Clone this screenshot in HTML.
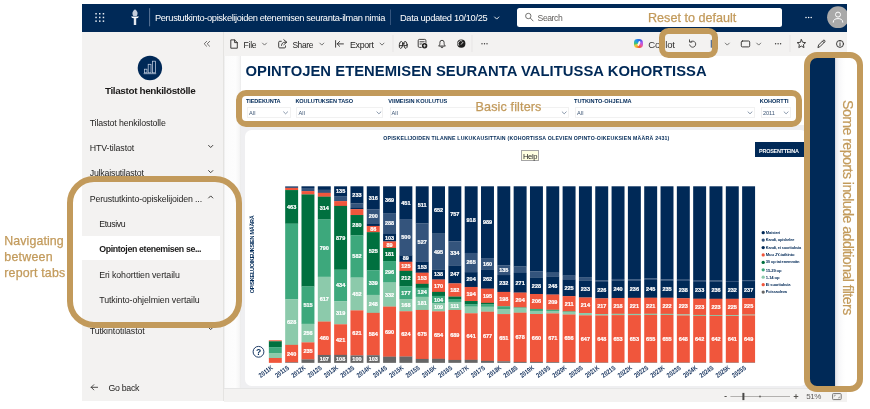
<!DOCTYPE html>
<html><head><meta charset="utf-8">
<style>
html,body{margin:0;padding:0;background:#fff;}
body{width:870px;height:409px;position:relative;overflow:hidden;font-family:"Liberation Sans",sans-serif;}
.a{position:absolute;}
.t{position:absolute;white-space:pre;font-family:"Liberation Sans",sans-serif;}
svg{position:absolute;left:0;top:0;overflow:visible;}
.dl{font-family:"Liberation Sans",sans-serif;font-size:5.5px;font-weight:700;fill:#fff;text-anchor:middle;stroke:#fff;stroke-width:0.22px;}
.ax{font-family:"Liberation Sans",sans-serif;font-size:6.7px;font-weight:700;fill:#17345f;}
.yt{font-family:"Liberation Sans",sans-serif;font-size:5.5px;font-weight:700;fill:#002957;}
.gold{position:absolute;border:6px solid #c29a5b;box-sizing:border-box;}
.dd{position:absolute;top:107.4px;height:10.2px;box-sizing:border-box;border:0.6px solid #f1f1f1;background:#fff;}
</style></head>
<body>
<div id="wrap" style="position:absolute;left:0;top:0;width:870px;height:409px;will-change:transform;">
<!-- window -->
<div class="a" style="left:82px;top:4px;width:765px;height:398px;background:#fff;"></div>
<!-- sidebar -->
<div class="a" style="left:82px;top:31px;width:141.3px;height:370.4px;background:#f3f2f1;"></div>
<div class="a" style="left:223.3px;top:31px;width:0.7px;height:370.4px;background:#e4e3e1;"></div>
<!-- toolbar -->
<div class="a" style="left:224px;top:31px;width:623px;height:25.1px;background:#f3f2f1;"></div>
<!-- report canvas -->
<div class="a" style="left:224.4px;top:56.1px;width:622.6px;height:332.1px;background:#fff;"></div>
<div class="a" style="left:224px;top:56.1px;width:17.4px;height:332.1px;background:linear-gradient(90deg,#e9e9e9 0,#fbfbfb 7%,#fdfdfd 68%,#f6f6f6 90%,#eaeaeb 100%);"></div>
<!-- band under filter -->
<div class="a" style="left:240.6px;top:125px;width:568px;height:263.2px;background:#efeff1;"></div>
<!-- chart card -->
<div class="a" style="left:244.6px;top:129.7px;width:562px;height:256.4px;background:#fff;border-radius:6.5px;"></div>
<!-- status bar -->
<div class="a" style="left:224.4px;top:388.2px;width:622.6px;height:13.4px;background:#f3f2f1;border-top:0.8px solid #e6e6e6;box-sizing:border-box;"></div>
<!-- top bar -->
<div class="a" style="left:82px;top:4px;width:765px;height:27.8px;background:#002957;"></div>
<div class="a" style="left:517.3px;top:7.6px;width:264.5px;height:19.1px;background:#fff;border-radius:2.5px;"></div>
<!-- selected nav item -->
<div class="a" style="left:82px;top:235.9px;width:138px;height:24px;background:#fff;"></div>
<!-- right filter pane -->
<div class="a" style="left:810.3px;top:56px;width:25px;height:332px;background:#002957;"></div>
<div class="a" style="left:835.3px;top:56px;width:22px;height:332px;background:linear-gradient(90deg,#cfd0d6 0,#e9e9ed 6%,#f7f7f9 18%,#fdfdfd 36%,#fff 50%);"></div>
<!-- PROSENTTEINA button -->
<div class="a" style="left:754.8px;top:142.2px;width:52px;height:15.2px;background:#002957;"></div>
<!-- dropdowns -->
<div class="dd" style="left:247px;width:44px;"></div>
<div class="dd" style="left:296.2px;width:87.2px;"></div>
<div class="dd" style="left:389.5px;width:179px;"></div>
<div class="dd" style="left:574.9px;width:180.6px;"></div>
<div class="dd" style="left:761px;width:30px;"></div>
<!-- help tooltip -->
<div class="a" style="left:521.4px;top:149.9px;width:17.4px;height:11.4px;background:#ffffe1;border:0.6px solid #a5a5a5;box-sizing:border-box;"></div>

<svg width="870" height="409" viewBox="0 0 870 409">
<rect x="268.85" y="340.28" width="12.95" height="1.17" fill="#f0563c"/>
<rect x="268.85" y="341.29" width="12.95" height="6.03" fill="#00703f"/>
<rect x="268.85" y="347.17" width="12.95" height="6.03" fill="#3da87c"/>
<rect x="268.85" y="353.05" width="12.95" height="5.08" fill="#8ccaab"/>
<rect x="268.85" y="357.98" width="12.95" height="4.87" fill="#f0563c"/>
<text class="ax" transform="translate(273.43,368.80) rotate(-36)" text-anchor="end" textLength="15.6" lengthAdjust="spacingAndGlyphs">2011K</text>
<rect x="285.17" y="186.30" width="12.95" height="1.75" fill="#34547c"/>
<rect x="285.17" y="187.90" width="12.95" height="2.33" fill="#f0563c"/>
<rect x="285.17" y="190.07" width="12.95" height="33.75" fill="#00703f"/>
<text x="291.65" y="208.82" class="dl">463</text>
<rect x="285.17" y="223.67" width="12.95" height="75.76" fill="#3da87c"/>
<rect x="285.17" y="299.28" width="12.95" height="45.72" fill="#8ccaab"/>
<text x="291.65" y="324.01" class="dl">628</text>
<rect x="285.17" y="344.85" width="12.95" height="17.57" fill="#f0563c"/>
<text x="291.65" y="355.51" class="dl">240</text>
<rect x="285.17" y="362.26" width="12.95" height="0.59" fill="#666666"/>
<text class="ax" transform="translate(289.75,368.80) rotate(-36)" text-anchor="end" textLength="15.6" lengthAdjust="spacingAndGlyphs">2011S</text>
<rect x="301.49" y="186.30" width="12.95" height="1.75" fill="#002957"/>
<rect x="301.49" y="187.90" width="12.95" height="3.34" fill="#34547c"/>
<rect x="301.49" y="191.09" width="12.95" height="3.49" fill="#f0563c"/>
<rect x="301.49" y="194.43" width="12.95" height="92.16" fill="#00703f"/>
<rect x="301.49" y="286.44" width="12.95" height="37.52" fill="#3da87c"/>
<text x="307.97" y="307.07" class="dl">515</text>
<rect x="301.49" y="323.81" width="12.95" height="18.73" fill="#8ccaab"/>
<text x="307.97" y="335.04" class="dl">256</text>
<rect x="301.49" y="342.38" width="12.95" height="17.20" fill="#f0563c"/>
<text x="307.97" y="352.86" class="dl">235</text>
<rect x="301.49" y="359.43" width="12.95" height="3.42" fill="#666666"/>
<text class="ax" transform="translate(306.07,368.80) rotate(-36)" text-anchor="end" textLength="15.6" lengthAdjust="spacingAndGlyphs">2012K</text>
<rect x="317.81" y="186.30" width="12.95" height="3.63" fill="#002957"/>
<rect x="317.81" y="189.78" width="12.95" height="3.20" fill="#34547c"/>
<rect x="317.81" y="192.83" width="12.95" height="4.00" fill="#f0563c"/>
<rect x="317.81" y="196.68" width="12.95" height="22.93" fill="#00703f"/>
<text x="324.29" y="210.02" class="dl">314</text>
<rect x="317.81" y="219.46" width="12.95" height="57.47" fill="#3da87c"/>
<text x="324.29" y="250.07" class="dl">790</text>
<rect x="317.81" y="276.79" width="12.95" height="44.92" fill="#8ccaab"/>
<text x="324.29" y="301.12" class="dl">617</text>
<rect x="317.81" y="321.56" width="12.95" height="33.53" fill="#f0563c"/>
<text x="324.29" y="340.20" class="dl">460</text>
<rect x="317.81" y="354.94" width="12.95" height="7.91" fill="#666666"/>
<text x="324.29" y="360.77" class="dl">107</text>
<text class="ax" transform="translate(322.39,368.80) rotate(-36)" text-anchor="end" textLength="15.6" lengthAdjust="spacingAndGlyphs">2012S</text>
<rect x="334.13" y="186.30" width="12.95" height="9.95" fill="#002957"/>
<text x="340.61" y="193.15" class="dl">135</text>
<rect x="334.13" y="196.10" width="12.95" height="5.16" fill="#34547c"/>
<rect x="334.13" y="201.10" width="12.95" height="4.94" fill="#f0563c"/>
<rect x="334.13" y="205.89" width="12.95" height="63.93" fill="#00703f"/>
<text x="340.61" y="239.73" class="dl">879</text>
<rect x="334.13" y="269.67" width="12.95" height="31.64" fill="#3da87c"/>
<text x="340.61" y="287.37" class="dl">434</text>
<rect x="334.13" y="301.17" width="12.95" height="23.30" fill="#8ccaab"/>
<text x="340.61" y="314.69" class="dl">319</text>
<rect x="334.13" y="324.31" width="12.95" height="30.70" fill="#f0563c"/>
<text x="340.61" y="341.54" class="dl">421</text>
<rect x="334.13" y="354.86" width="12.95" height="7.99" fill="#666666"/>
<text x="340.61" y="360.73" class="dl">108</text>
<text class="ax" transform="translate(338.71,368.80) rotate(-36)" text-anchor="end" textLength="15.6" lengthAdjust="spacingAndGlyphs">2013K</text>
<rect x="350.45" y="186.30" width="12.95" height="17.06" fill="#002957"/>
<text x="356.93" y="196.70" class="dl">233</text>
<rect x="350.45" y="203.21" width="12.95" height="4.87" fill="#34547c"/>
<rect x="350.45" y="207.92" width="12.95" height="1.38" fill="#002957"/>
<rect x="350.45" y="209.16" width="12.95" height="6.03" fill="#f0563c"/>
<rect x="350.45" y="215.03" width="12.95" height="20.47" fill="#00703f"/>
<text x="356.93" y="227.14" class="dl">280</text>
<rect x="350.45" y="235.35" width="12.95" height="42.38" fill="#3da87c"/>
<text x="356.93" y="258.42" class="dl">582</text>
<rect x="350.45" y="277.58" width="12.95" height="32.95" fill="#8ccaab"/>
<text x="356.93" y="295.93" class="dl">452</text>
<rect x="350.45" y="310.38" width="12.95" height="45.21" fill="#f0563c"/>
<text x="356.93" y="334.86" class="dl">621</text>
<rect x="350.45" y="355.44" width="12.95" height="7.41" fill="#666666"/>
<text x="356.93" y="361.02" class="dl">100</text>
<text class="ax" transform="translate(355.03,368.80) rotate(-36)" text-anchor="end" textLength="15.6" lengthAdjust="spacingAndGlyphs">2013S</text>
<rect x="366.77" y="186.30" width="12.95" height="23.08" fill="#002957"/>
<text x="373.25" y="199.71" class="dl">316</text>
<rect x="366.77" y="209.23" width="12.95" height="14.66" fill="#34547c"/>
<text x="373.25" y="218.44" class="dl">200</text>
<rect x="366.77" y="223.74" width="12.95" height="2.33" fill="#002957"/>
<rect x="366.77" y="225.92" width="12.95" height="6.39" fill="#f0563c"/>
<text x="373.25" y="230.99" class="dl">86</text>
<rect x="366.77" y="232.16" width="12.95" height="38.25" fill="#00703f"/>
<text x="373.25" y="253.16" class="dl">525</text>
<rect x="366.77" y="270.26" width="12.95" height="24.75" fill="#3da87c"/>
<text x="373.25" y="284.50" class="dl">339</text>
<rect x="366.77" y="294.85" width="12.95" height="18.15" fill="#8ccaab"/>
<text x="373.25" y="305.80" class="dl">248</text>
<rect x="366.77" y="312.85" width="12.95" height="42.53" fill="#f0563c"/>
<text x="373.25" y="335.99" class="dl">584</text>
<rect x="366.77" y="355.23" width="12.95" height="7.62" fill="#666666"/>
<text x="373.25" y="360.91" class="dl">103</text>
<text class="ax" transform="translate(371.35,368.80) rotate(-36)" text-anchor="end" textLength="15.6" lengthAdjust="spacingAndGlyphs">2014K</text>
<rect x="383.09" y="186.30" width="12.95" height="26.93" fill="#002957"/>
<text x="389.57" y="201.64" class="dl">369</text>
<rect x="383.09" y="213.08" width="12.95" height="21.05" fill="#34547c"/>
<text x="389.57" y="225.47" class="dl">288</text>
<rect x="383.09" y="233.97" width="12.95" height="7.62" fill="#002957"/>
<text x="389.57" y="239.66" class="dl">103</text>
<rect x="383.09" y="241.45" width="12.95" height="6.61" fill="#f0563c"/>
<text x="389.57" y="246.63" class="dl">89</text>
<rect x="383.09" y="247.91" width="12.95" height="13.28" fill="#00703f"/>
<text x="389.57" y="256.42" class="dl">181</text>
<rect x="383.09" y="261.04" width="12.95" height="21.63" fill="#3da87c"/>
<text x="389.57" y="273.73" class="dl">296</text>
<rect x="383.09" y="282.52" width="12.95" height="24.24" fill="#8ccaab"/>
<text x="389.57" y="296.51" class="dl">332</text>
<rect x="383.09" y="306.61" width="12.95" height="50.22" fill="#f0563c"/>
<text x="389.57" y="333.59" class="dl">690</text>
<rect x="383.09" y="356.68" width="12.95" height="6.17" fill="#666666"/>
<text class="ax" transform="translate(387.67,368.80) rotate(-36)" text-anchor="end" textLength="15.6" lengthAdjust="spacingAndGlyphs">2014S</text>
<rect x="399.41" y="186.30" width="12.95" height="32.88" fill="#002957"/>
<text x="405.89" y="204.61" class="dl">451</text>
<rect x="399.41" y="219.03" width="12.95" height="36.43" fill="#34547c"/>
<text x="405.89" y="239.12" class="dl">500</text>
<rect x="399.41" y="255.31" width="12.95" height="6.61" fill="#002957"/>
<text x="405.89" y="260.49" class="dl">89</text>
<rect x="399.41" y="261.77" width="12.95" height="9.22" fill="#f0563c"/>
<text x="405.89" y="268.25" class="dl">125</text>
<rect x="399.41" y="270.84" width="12.95" height="15.53" fill="#00703f"/>
<text x="405.89" y="280.48" class="dl">212</text>
<rect x="399.41" y="286.22" width="12.95" height="12.99" fill="#3da87c"/>
<text x="405.89" y="294.59" class="dl">177</text>
<rect x="399.41" y="299.06" width="12.95" height="12.34" fill="#8ccaab"/>
<text x="405.89" y="307.11" class="dl">168</text>
<rect x="399.41" y="311.25" width="12.95" height="45.43" fill="#f0563c"/>
<text x="405.89" y="335.84" class="dl">624</text>
<rect x="399.41" y="356.53" width="12.95" height="6.32" fill="#666666"/>
<text class="ax" transform="translate(403.99,368.80) rotate(-36)" text-anchor="end" textLength="15.6" lengthAdjust="spacingAndGlyphs">2015K</text>
<rect x="415.73" y="186.30" width="12.95" height="37.23" fill="#002957"/>
<text x="422.21" y="206.79" class="dl">511</text>
<rect x="415.73" y="223.38" width="12.95" height="38.39" fill="#34547c"/>
<text x="422.21" y="244.45" class="dl">527</text>
<rect x="415.73" y="261.62" width="12.95" height="11.25" fill="#002957"/>
<text x="422.21" y="269.12" class="dl">153</text>
<rect x="415.73" y="272.72" width="12.95" height="11.25" fill="#f0563c"/>
<text x="422.21" y="280.22" class="dl">153</text>
<rect x="415.73" y="283.82" width="12.95" height="4.14" fill="#00703f"/>
<rect x="415.73" y="287.82" width="12.95" height="9.15" fill="#3da87c"/>
<text x="422.21" y="294.26" class="dl">124</text>
<rect x="415.73" y="296.81" width="12.95" height="13.28" fill="#8ccaab"/>
<text x="422.21" y="305.33" class="dl">181</text>
<rect x="415.73" y="309.95" width="12.95" height="49.13" fill="#f0563c"/>
<text x="422.21" y="336.39" class="dl">675</text>
<rect x="415.73" y="358.93" width="12.95" height="3.92" fill="#666666"/>
<text class="ax" transform="translate(420.31,368.80) rotate(-36)" text-anchor="end" textLength="15.6" lengthAdjust="spacingAndGlyphs">2015S</text>
<rect x="432.05" y="186.30" width="12.95" height="47.46" fill="#002957"/>
<text x="438.53" y="211.91" class="dl">652</text>
<rect x="432.05" y="233.61" width="12.95" height="36.07" fill="#34547c"/>
<text x="438.53" y="253.52" class="dl">495</text>
<rect x="432.05" y="269.53" width="12.95" height="10.16" fill="#002957"/>
<text x="438.53" y="276.49" class="dl">138</text>
<rect x="432.05" y="279.54" width="12.95" height="12.49" fill="#f0563c"/>
<text x="438.53" y="287.66" class="dl">170</text>
<rect x="432.05" y="291.88" width="12.95" height="4.14" fill="#00703f"/>
<rect x="432.05" y="295.87" width="12.95" height="7.70" fill="#3da87c"/>
<text x="438.53" y="301.59" class="dl">104</text>
<rect x="432.05" y="303.42" width="12.95" height="8.06" fill="#8ccaab"/>
<text x="438.53" y="309.32" class="dl">109</text>
<rect x="432.05" y="311.33" width="12.95" height="47.61" fill="#f0563c"/>
<text x="438.53" y="337.00" class="dl">654</text>
<rect x="432.05" y="358.78" width="12.95" height="4.07" fill="#666666"/>
<text class="ax" transform="translate(436.63,368.80) rotate(-36)" text-anchor="end" textLength="15.6" lengthAdjust="spacingAndGlyphs">2016K</text>
<rect x="448.37" y="186.30" width="12.95" height="55.08" fill="#002957"/>
<text x="454.85" y="215.71" class="dl">757</text>
<rect x="448.37" y="241.23" width="12.95" height="24.39" fill="#34547c"/>
<text x="454.85" y="255.30" class="dl">334</text>
<rect x="448.37" y="265.47" width="12.95" height="18.07" fill="#002957"/>
<text x="454.85" y="276.38" class="dl">247</text>
<rect x="448.37" y="283.39" width="12.95" height="13.36" fill="#f0563c"/>
<text x="454.85" y="291.94" class="dl">182</text>
<rect x="448.37" y="296.60" width="12.95" height="2.54" fill="#00703f"/>
<rect x="448.37" y="298.99" width="12.95" height="3.05" fill="#3da87c"/>
<rect x="448.37" y="301.89" width="12.95" height="8.20" fill="#8ccaab"/>
<text x="454.85" y="307.87" class="dl">111</text>
<rect x="448.37" y="309.95" width="12.95" height="50.15" fill="#f0563c"/>
<text x="454.85" y="336.89" class="dl">689</text>
<rect x="448.37" y="359.94" width="12.95" height="2.91" fill="#666666"/>
<text class="ax" transform="translate(452.95,368.80) rotate(-36)" text-anchor="end" textLength="15.6" lengthAdjust="spacingAndGlyphs">2016S</text>
<rect x="464.69" y="186.30" width="12.95" height="66.76" fill="#002957"/>
<text x="471.17" y="221.56" class="dl">918</text>
<rect x="464.69" y="252.91" width="12.95" height="19.38" fill="#34547c"/>
<text x="471.17" y="264.48" class="dl">265</text>
<rect x="464.69" y="272.14" width="12.95" height="14.95" fill="#002957"/>
<text x="471.17" y="281.49" class="dl">204</text>
<rect x="464.69" y="286.94" width="12.95" height="14.23" fill="#f0563c"/>
<text x="471.17" y="295.93" class="dl">194</text>
<rect x="464.69" y="301.02" width="12.95" height="3.27" fill="#00703f"/>
<rect x="464.69" y="304.14" width="12.95" height="2.62" fill="#3da87c"/>
<rect x="464.69" y="306.61" width="12.95" height="6.83" fill="#8ccaab"/>
<rect x="464.69" y="313.28" width="12.95" height="46.66" fill="#f0563c"/>
<text x="471.17" y="338.49" class="dl">641</text>
<rect x="464.69" y="359.80" width="12.95" height="3.05" fill="#666666"/>
<text class="ax" transform="translate(469.27,368.80) rotate(-36)" text-anchor="end" textLength="15.6" lengthAdjust="spacingAndGlyphs">2017K</text>
<rect x="481.01" y="186.30" width="12.95" height="71.91" fill="#002957"/>
<text x="487.49" y="224.13" class="dl">989</text>
<rect x="481.01" y="258.06" width="12.95" height="11.76" fill="#34547c"/>
<text x="487.49" y="265.82" class="dl">160</text>
<rect x="481.01" y="269.67" width="12.95" height="19.16" fill="#002957"/>
<text x="487.49" y="281.13" class="dl">262</text>
<rect x="481.01" y="288.69" width="12.95" height="14.30" fill="#f0563c"/>
<text x="487.49" y="297.71" class="dl">195</text>
<rect x="481.01" y="302.84" width="12.95" height="1.75" fill="#00703f"/>
<rect x="481.01" y="304.43" width="12.95" height="2.47" fill="#3da87c"/>
<rect x="481.01" y="306.75" width="12.95" height="5.08" fill="#8ccaab"/>
<rect x="481.01" y="311.69" width="12.95" height="49.27" fill="#f0563c"/>
<text x="487.49" y="338.20" class="dl">677</text>
<rect x="481.01" y="360.81" width="12.95" height="2.04" fill="#666666"/>
<text class="ax" transform="translate(485.59,368.80) rotate(-36)" text-anchor="end" textLength="15.6" lengthAdjust="spacingAndGlyphs">2017S</text>
<rect x="497.33" y="186.30" width="12.95" height="79.10" fill="#002957"/>
<rect x="497.33" y="265.25" width="12.95" height="9.95" fill="#34547c"/>
<text x="503.81" y="272.10" class="dl">135</text>
<rect x="497.33" y="275.04" width="12.95" height="16.98" fill="#002957"/>
<text x="503.81" y="285.41" class="dl">232</text>
<rect x="497.33" y="291.88" width="12.95" height="14.52" fill="#f0563c"/>
<text x="503.81" y="301.01" class="dl">198</text>
<rect x="497.33" y="306.25" width="12.95" height="2.91" fill="#3da87c"/>
<rect x="497.33" y="309.00" width="12.95" height="5.23" fill="#8ccaab"/>
<rect x="497.33" y="314.08" width="12.95" height="47.39" fill="#f0563c"/>
<text x="503.81" y="339.65" class="dl">651</text>
<rect x="497.33" y="361.32" width="12.95" height="1.53" fill="#666666"/>
<text class="ax" transform="translate(501.91,368.80) rotate(-36)" text-anchor="end" textLength="15.6" lengthAdjust="spacingAndGlyphs">2018K</text>
<rect x="513.65" y="186.30" width="12.95" height="80.33" fill="#002957"/>
<rect x="513.65" y="266.48" width="12.95" height="6.61" fill="#34547c"/>
<rect x="513.65" y="272.94" width="12.95" height="19.81" fill="#002957"/>
<text x="520.13" y="284.72" class="dl">271</text>
<rect x="513.65" y="292.60" width="12.95" height="14.95" fill="#f0563c"/>
<text x="520.13" y="301.96" class="dl">204</text>
<rect x="513.65" y="307.41" width="12.95" height="1.17" fill="#3da87c"/>
<rect x="513.65" y="308.42" width="12.95" height="4.43" fill="#8ccaab"/>
<rect x="513.65" y="312.70" width="12.95" height="49.35" fill="#f0563c"/>
<text x="520.13" y="339.25" class="dl">678</text>
<rect x="513.65" y="361.90" width="12.95" height="0.95" fill="#666666"/>
<text class="ax" transform="translate(518.23,368.80) rotate(-36)" text-anchor="end" textLength="15.6" lengthAdjust="spacingAndGlyphs">2018S</text>
<rect x="529.97" y="186.30" width="12.95" height="85.19" fill="#002957"/>
<rect x="529.97" y="271.34" width="12.95" height="6.25" fill="#34547c"/>
<rect x="529.97" y="277.44" width="12.95" height="16.69" fill="#002957"/>
<text x="536.45" y="287.66" class="dl">228</text>
<rect x="529.97" y="293.98" width="12.95" height="15.10" fill="#f0563c"/>
<text x="536.45" y="303.41" class="dl">206</text>
<rect x="529.97" y="308.93" width="12.95" height="2.11" fill="#3da87c"/>
<rect x="529.97" y="310.89" width="12.95" height="3.27" fill="#8ccaab"/>
<rect x="529.97" y="314.01" width="12.95" height="48.04" fill="#f0563c"/>
<text x="536.45" y="339.91" class="dl">660</text>
<rect x="529.97" y="361.90" width="12.95" height="0.95" fill="#666666"/>
<text class="ax" transform="translate(534.55,368.80) rotate(-36)" text-anchor="end" textLength="15.6" lengthAdjust="spacingAndGlyphs">2019K</text>
<rect x="546.29" y="186.30" width="12.95" height="86.50" fill="#002957"/>
<rect x="546.29" y="272.65" width="12.95" height="4.07" fill="#34547c"/>
<rect x="546.29" y="276.57" width="12.95" height="18.15" fill="#002957"/>
<text x="552.76" y="287.52" class="dl">248</text>
<rect x="546.29" y="294.56" width="12.95" height="15.32" fill="#f0563c"/>
<text x="552.76" y="304.10" class="dl">209</text>
<rect x="546.29" y="309.73" width="12.95" height="1.31" fill="#3da87c"/>
<rect x="546.29" y="310.89" width="12.95" height="2.69" fill="#8ccaab"/>
<rect x="546.29" y="313.43" width="12.95" height="48.84" fill="#f0563c"/>
<text x="552.76" y="339.72" class="dl">671</text>
<rect x="546.29" y="362.12" width="12.95" height="0.73" fill="#666666"/>
<text class="ax" transform="translate(550.87,368.80) rotate(-36)" text-anchor="end" textLength="15.6" lengthAdjust="spacingAndGlyphs">2019S</text>
<rect x="562.61" y="186.30" width="12.95" height="88.89" fill="#002957"/>
<rect x="562.61" y="275.04" width="12.95" height="4.87" fill="#34547c"/>
<rect x="562.61" y="279.76" width="12.95" height="16.48" fill="#002957"/>
<text x="569.09" y="289.87" class="dl">225</text>
<rect x="562.61" y="296.09" width="12.95" height="15.46" fill="#f0563c"/>
<text x="569.09" y="305.69" class="dl">211</text>
<rect x="562.61" y="311.40" width="12.95" height="0.73" fill="#3da87c"/>
<rect x="562.61" y="311.98" width="12.95" height="2.69" fill="#8ccaab"/>
<rect x="562.61" y="314.52" width="12.95" height="47.75" fill="#f0563c"/>
<text x="569.09" y="340.27" class="dl">656</text>
<rect x="562.61" y="362.12" width="12.95" height="0.73" fill="#666666"/>
<text class="ax" transform="translate(567.19,368.80) rotate(-36)" text-anchor="end" textLength="15.6" lengthAdjust="spacingAndGlyphs">2020K</text>
<rect x="578.93" y="186.30" width="12.95" height="90.93" fill="#002957"/>
<rect x="578.93" y="277.08" width="12.95" height="3.63" fill="#34547c"/>
<rect x="578.93" y="280.56" width="12.95" height="17.06" fill="#002957"/>
<text x="585.41" y="290.96" class="dl">233</text>
<rect x="578.93" y="297.47" width="12.95" height="15.68" fill="#f0563c"/>
<text x="585.41" y="307.18" class="dl">214</text>
<rect x="578.93" y="312.99" width="12.95" height="2.47" fill="#8ccaab"/>
<rect x="578.93" y="315.32" width="12.95" height="47.10" fill="#f0563c"/>
<text x="585.41" y="340.74" class="dl">647</text>
<rect x="578.93" y="362.26" width="12.95" height="0.59" fill="#666666"/>
<text class="ax" transform="translate(583.51,368.80) rotate(-36)" text-anchor="end" textLength="15.6" lengthAdjust="spacingAndGlyphs">2020S</text>
<rect x="595.25" y="186.30" width="12.95" height="94.05" fill="#002957"/>
<rect x="595.25" y="280.20" width="12.95" height="1.89" fill="#34547c"/>
<rect x="595.25" y="281.94" width="12.95" height="16.55" fill="#002957"/>
<text x="601.73" y="292.09" class="dl">226</text>
<rect x="595.25" y="298.34" width="12.95" height="15.90" fill="#f0563c"/>
<text x="601.73" y="308.16" class="dl">217</text>
<rect x="595.25" y="314.08" width="12.95" height="1.53" fill="#8ccaab"/>
<rect x="595.25" y="315.46" width="12.95" height="47.17" fill="#f0563c"/>
<text x="601.73" y="340.92" class="dl">648</text>
<rect x="595.25" y="362.48" width="12.95" height="0.37" fill="#666666"/>
<text class="ax" transform="translate(599.83,368.80) rotate(-36)" text-anchor="end" textLength="15.6" lengthAdjust="spacingAndGlyphs">2021K</text>
<rect x="611.57" y="186.30" width="12.95" height="92.75" fill="#002957"/>
<rect x="611.57" y="278.90" width="12.95" height="1.80" fill="#34547c"/>
<rect x="611.57" y="280.55" width="12.95" height="17.57" fill="#002957"/>
<text x="618.05" y="291.21" class="dl">240</text>
<rect x="611.57" y="297.97" width="12.95" height="15.97" fill="#f0563c"/>
<text x="618.05" y="307.83" class="dl">218</text>
<rect x="611.57" y="313.79" width="12.95" height="1.46" fill="#8ccaab"/>
<rect x="611.57" y="315.10" width="12.95" height="47.53" fill="#f0563c"/>
<text x="618.05" y="340.74" class="dl">653</text>
<rect x="611.57" y="362.48" width="12.95" height="0.37" fill="#666666"/>
<text class="ax" transform="translate(616.15,368.80) rotate(-36)" text-anchor="end" textLength="15.6" lengthAdjust="spacingAndGlyphs">2021S</text>
<rect x="627.89" y="186.30" width="12.95" height="92.97" fill="#002957"/>
<rect x="627.89" y="279.12" width="12.95" height="1.72" fill="#34547c"/>
<rect x="627.89" y="280.69" width="12.95" height="17.27" fill="#002957"/>
<text x="634.37" y="291.20" class="dl">236</text>
<rect x="627.89" y="297.81" width="12.95" height="16.19" fill="#f0563c"/>
<text x="634.37" y="307.78" class="dl">221</text>
<rect x="627.89" y="313.85" width="12.95" height="1.40" fill="#8ccaab"/>
<rect x="627.89" y="315.10" width="12.95" height="47.53" fill="#f0563c"/>
<text x="634.37" y="340.74" class="dl">653</text>
<rect x="627.89" y="362.48" width="12.95" height="0.37" fill="#666666"/>
<text class="ax" transform="translate(632.47,368.80) rotate(-36)" text-anchor="end" textLength="15.6" lengthAdjust="spacingAndGlyphs">2022K</text>
<rect x="644.21" y="186.30" width="12.95" height="92.33" fill="#002957"/>
<rect x="644.21" y="278.48" width="12.95" height="1.63" fill="#34547c"/>
<rect x="644.21" y="279.96" width="12.95" height="17.93" fill="#002957"/>
<text x="650.69" y="290.80" class="dl">245</text>
<rect x="644.21" y="297.73" width="12.95" height="16.19" fill="#f0563c"/>
<text x="650.69" y="307.70" class="dl">221</text>
<rect x="644.21" y="313.77" width="12.95" height="1.33" fill="#8ccaab"/>
<rect x="644.21" y="314.95" width="12.95" height="47.68" fill="#f0563c"/>
<text x="650.69" y="340.67" class="dl">655</text>
<rect x="644.21" y="362.48" width="12.95" height="0.37" fill="#666666"/>
<text class="ax" transform="translate(648.79,368.80) rotate(-36)" text-anchor="end" textLength="15.6" lengthAdjust="spacingAndGlyphs">2022S</text>
<rect x="660.53" y="186.30" width="12.95" height="93.13" fill="#002957"/>
<rect x="660.53" y="279.28" width="12.95" height="1.54" fill="#34547c"/>
<rect x="660.53" y="280.68" width="12.95" height="17.20" fill="#002957"/>
<text x="667.00" y="291.15" class="dl">235</text>
<rect x="660.53" y="297.73" width="12.95" height="16.26" fill="#f0563c"/>
<text x="667.00" y="307.73" class="dl">222</text>
<rect x="660.53" y="313.84" width="12.95" height="1.27" fill="#8ccaab"/>
<rect x="660.53" y="314.95" width="12.95" height="47.68" fill="#f0563c"/>
<text x="667.00" y="340.67" class="dl">655</text>
<rect x="660.53" y="362.48" width="12.95" height="0.37" fill="#666666"/>
<text class="ax" transform="translate(665.11,368.80) rotate(-36)" text-anchor="end" textLength="15.6" lengthAdjust="spacingAndGlyphs">2023K</text>
<rect x="676.85" y="186.30" width="12.95" height="93.50" fill="#002957"/>
<rect x="676.85" y="279.65" width="12.95" height="1.46" fill="#34547c"/>
<rect x="676.85" y="280.96" width="12.95" height="17.42" fill="#002957"/>
<text x="683.33" y="291.54" class="dl">238</text>
<rect x="676.85" y="298.23" width="12.95" height="16.33" fill="#f0563c"/>
<text x="683.33" y="308.27" class="dl">223</text>
<rect x="676.85" y="314.41" width="12.95" height="1.20" fill="#8ccaab"/>
<rect x="676.85" y="315.46" width="12.95" height="47.17" fill="#f0563c"/>
<text x="683.33" y="340.92" class="dl">648</text>
<rect x="676.85" y="362.48" width="12.95" height="0.37" fill="#666666"/>
<text class="ax" transform="translate(681.43,368.80) rotate(-36)" text-anchor="end" textLength="15.6" lengthAdjust="spacingAndGlyphs">2023S</text>
<rect x="693.17" y="186.30" width="12.95" height="94.45" fill="#002957"/>
<rect x="693.17" y="280.60" width="12.95" height="1.37" fill="#34547c"/>
<rect x="693.17" y="281.82" width="12.95" height="17.06" fill="#002957"/>
<text x="699.65" y="292.23" class="dl">233</text>
<rect x="693.17" y="298.73" width="12.95" height="16.33" fill="#f0563c"/>
<text x="699.65" y="308.77" class="dl">223</text>
<rect x="693.17" y="314.91" width="12.95" height="1.14" fill="#8ccaab"/>
<rect x="693.17" y="315.90" width="12.95" height="46.74" fill="#f0563c"/>
<text x="699.65" y="341.14" class="dl">642</text>
<rect x="693.17" y="362.48" width="12.95" height="0.37" fill="#666666"/>
<text class="ax" transform="translate(697.75,368.80) rotate(-36)" text-anchor="end" textLength="15.6" lengthAdjust="spacingAndGlyphs">2024K</text>
<rect x="709.49" y="186.30" width="12.95" height="94.39" fill="#002957"/>
<rect x="709.49" y="280.54" width="12.95" height="1.28" fill="#34547c"/>
<rect x="709.49" y="281.67" width="12.95" height="17.27" fill="#002957"/>
<text x="715.97" y="292.18" class="dl">236</text>
<rect x="709.49" y="298.79" width="12.95" height="16.33" fill="#f0563c"/>
<text x="715.97" y="308.83" class="dl">223</text>
<rect x="709.49" y="314.98" width="12.95" height="1.07" fill="#8ccaab"/>
<rect x="709.49" y="315.90" width="12.95" height="46.74" fill="#f0563c"/>
<text x="715.97" y="341.14" class="dl">642</text>
<rect x="709.49" y="362.48" width="12.95" height="0.37" fill="#666666"/>
<text class="ax" transform="translate(714.07,368.80) rotate(-36)" text-anchor="end" textLength="15.6" lengthAdjust="spacingAndGlyphs">2024S</text>
<rect x="725.81" y="186.30" width="12.95" height="94.76" fill="#002957"/>
<rect x="725.81" y="280.91" width="12.95" height="1.19" fill="#34547c"/>
<rect x="725.81" y="281.95" width="12.95" height="16.98" fill="#002957"/>
<text x="732.29" y="292.32" class="dl">232</text>
<rect x="725.81" y="298.79" width="12.95" height="16.48" fill="#f0563c"/>
<text x="732.29" y="308.90" class="dl">225</text>
<rect x="725.81" y="315.11" width="12.95" height="1.01" fill="#8ccaab"/>
<rect x="725.81" y="315.97" width="12.95" height="46.66" fill="#f0563c"/>
<text x="732.29" y="341.18" class="dl">641</text>
<rect x="725.81" y="362.48" width="12.95" height="0.37" fill="#666666"/>
<text class="ax" transform="translate(730.39,368.80) rotate(-36)" text-anchor="end" textLength="15.6" lengthAdjust="spacingAndGlyphs">2025K</text>
<rect x="742.13" y="186.30" width="12.95" height="93.97" fill="#002957"/>
<rect x="742.13" y="280.12" width="12.95" height="1.11" fill="#34547c"/>
<rect x="742.13" y="281.07" width="12.95" height="17.35" fill="#002957"/>
<text x="748.61" y="291.62" class="dl">237</text>
<rect x="742.13" y="298.27" width="12.95" height="16.48" fill="#f0563c"/>
<text x="748.61" y="308.38" class="dl">225</text>
<rect x="742.13" y="314.60" width="12.95" height="0.94" fill="#8ccaab"/>
<rect x="742.13" y="315.39" width="12.95" height="47.24" fill="#f0563c"/>
<text x="748.61" y="340.89" class="dl">649</text>
<rect x="742.13" y="362.48" width="12.95" height="0.37" fill="#666666"/>
<text class="ax" transform="translate(746.71,368.80) rotate(-36)" text-anchor="end" textLength="15.6" lengthAdjust="spacingAndGlyphs">2025S</text>
<circle cx="763.2" cy="232.70" r="1.65" fill="#002957"/>
<circle cx="763.2" cy="240.12" r="1.65" fill="#34547c"/>
<circle cx="763.2" cy="247.54" r="1.65" fill="#002957"/>
<circle cx="763.2" cy="254.96" r="1.65" fill="#f0563c"/>
<circle cx="763.2" cy="262.38" r="1.65" fill="#00703f"/>
<circle cx="763.2" cy="269.80" r="1.65" fill="#3da87c"/>
<circle cx="763.2" cy="277.22" r="1.65" fill="#8ccaab"/>
<circle cx="763.2" cy="284.64" r="1.65" fill="#f0563c"/>
<circle cx="763.2" cy="292.06" r="1.65" fill="#666666"/>
<text class="yt" transform="translate(253.5,254.2) rotate(-90)" text-anchor="middle" textLength="78" lengthAdjust="spacing">OPISKELUOIKEUKSIEN MÄÄRÄ</text>
<!-- help circle -->
<circle cx="258.5" cy="351.8" r="5.4" fill="#fff" stroke="#1f3d68" stroke-width="1"/>
<text x="258.5" y="354.8" text-anchor="middle" font-family="Liberation Sans" font-weight="700" font-size="8.6" fill="#002957">?</text>
<!-- ===== top bar icons ===== -->
<g fill="#e8edf4">
<rect x="95.3" y="13" width="1.5" height="1.5"/><rect x="99" y="13" width="1.5" height="1.5"/><rect x="102.7" y="13" width="1.5" height="1.5"/>
<rect x="95.3" y="16.7" width="1.5" height="1.5"/><rect x="99" y="16.7" width="1.5" height="1.5"/><rect x="102.7" y="16.7" width="1.5" height="1.5"/>
<rect x="95.3" y="20.4" width="1.5" height="1.5"/><rect x="99" y="20.4" width="1.5" height="1.5"/><rect x="102.7" y="20.4" width="1.5" height="1.5"/>
</g>
<!-- torch -->
<path d="M135 9.3 C137.7 11.4 138.4 13.6 136.7 15.9 L133.3 15.9 C131.6 13.6 132.3 11.4 135 9.3Z" fill="#c5cedb"/>
<path d="M131.1 16.5 h7.8 c-0.3 1.3 -1.8 1.8 -3.9 1.8 c-2.1 0 -3.6 -0.5 -3.9 -1.8z" fill="#ffffff"/>
<rect x="133.8" y="18" width="2.4" height="7" fill="#e3e8ef"/>
<line x1="149.6" y1="8.2" x2="149.6" y2="26.3" stroke="#5b7497" stroke-width="1"/>
<line x1="390.5" y1="9.5" x2="390.5" y2="25" stroke="#4b678e" stroke-width="0.7"/>
<path d="M494.3 16.7 L496.7 19.1 L499.1 16.7" fill="none" stroke="#fff" stroke-width="0.9"/>
<!-- search icon -->
<circle cx="528.3" cy="16" r="2.7" fill="none" stroke="#605e5c" stroke-width="0.85"/>
<line x1="530.3" y1="18" x2="533.3" y2="21.2" stroke="#605e5c" stroke-width="0.9"/>
<!-- top dots -->
<g fill="#fff"><circle cx="806" cy="17.4" r="0.75"/><circle cx="808.6" cy="17.4" r="0.75"/><circle cx="811.2" cy="17.4" r="0.75"/></g>
<!-- avatar -->
<clipPath id="avc"><rect x="820" y="4" width="27" height="27.3"/></clipPath>
<g clip-path="url(#avc)">
<circle cx="838" cy="17.2" r="10.9" fill="#a9a9a9"/>
<circle cx="838" cy="14.6" r="2.5" fill="none" stroke="#fff" stroke-width="1"/>
<path d="M833.2 22.6 C833.2 19.6 835.2 18.6 838 18.6 C840.8 18.6 842.8 19.6 842.8 22.6" fill="none" stroke="#fff" stroke-width="1"/>
</g>
<!-- ===== toolbar icons ===== -->
<g fill="none" stroke="#2b2a29" stroke-width="0.9" stroke-linecap="round" stroke-linejoin="round">
<path d="M206.6 41.4 L204.2 43.8 L206.6 46.2 M209.6 41.4 L207.2 43.8 L209.6 46.2" stroke="#605e5c"/>
<!-- file -->
<path d="M231.2 39.9 h3.4 l2.7 2.7 v5.6 h-6.1 z M234.6 39.9 v2.7 h2.7"/>
<!-- chevrons -->
<path d="M262.5 43.1 l2 2 l2 -2 M319.8 43.1 l2 2 l2 -2 M380 43.1 l2 2 l2 -2 M725.3 43.1 l2 2 l2 -2 M756.7 43.1 l2 2 l2 -2" stroke="#4a4948" stroke-width="0.75"/>
<!-- share -->
<path d="M281.3 41.3 h-1.6 a1 1 0 0 0 -1 1 v4.6 a1 1 0 0 0 1 1 h4.8 a1 1 0 0 0 1 -1 v-1"/>
<path d="M283.8 39.7 l2.9 2.5 l-2.9 2.5 M286.5 42.2 h-1.6 c-2 0 -3.2 1.2 -3.4 3.2"/>
<!-- export -->
<path d="M335.6 40.6 v6.6 M337.2 43.9 h6.2 M339.6 41.5 l-2.4 2.4 l2.4 2.4"/>
<!-- binoculars -->
<ellipse cx="401" cy="44.9" rx="1.7" ry="3.5" transform="rotate(8 401 44.9)"/>
<ellipse cx="405.5" cy="44.9" rx="1.7" ry="3.5" transform="rotate(-8 405.5 44.9)"/>
<path d="M402.4 43.3 h1.8 M399.6 45.6 h2.9 M404 45.6 h2.9"/>
<!-- subscribe -->
<path d="M425.9 42.6 v-2 a1.2 1.2 0 0 0 -1.2 -1.2 h-5.3 a1.2 1.2 0 0 0 -1.2 1.2 v5.6 a1.2 1.2 0 0 0 1.2 1.2 h2 M420 41.8 h4.2 M420 44 h2.2"/>
<!-- bell -->
<path d="M438.9 45.8 c1 -0.8 1 -1.8 1 -3.4 a2.1 2.1 0 0 1 4.2 0 c0 1.6 0 2.6 1 3.4 z M441 46.8 a1 1 0 0 0 2 0"/>
<!-- reset -->
<path d="M690.8 41.6 A3.1 3.1 0 1 1 689.6 44.9" stroke-width="0.8"/>
<path d="M689.5 39.8 v2.3 h2.3" stroke-width="0.8"/>
<!-- bookmark partial -->
<path d="M711.3 40.4 v6.8" stroke-width="1.1" stroke="#3d5a85"/>
<!-- view rect -->
<rect x="741.3" y="41" width="8.4" height="5.9" rx="1.1"/>
<!-- star -->
<path d="M801.4 39.6 l1.25 2.7 l2.95 0.35 l-2.2 2 l0.6 2.9 l-2.6 -1.45 l-2.6 1.45 l0.6 -2.9 l-2.2 -2 l2.95 -0.35 z"/>
<!-- pencil -->
<path d="M818 47.2 l0.6 -2.2 l4.6 -4.6 a0.9 0.9 0 0 1 1.5 1.5 l-4.6 4.6 z M822.6 41.2 l1.4 1.4"/>
<!-- info -->
<circle cx="840" cy="43.9" r="3.5"/>
<path d="M840 43.4 v2.4" stroke-width="0.9"/>
</g>
<circle cx="840" cy="41.9" r="0.55" fill="#3b3a39"/>
<circle cx="424.6" cy="45.8" r="3.2" fill="#f3f2f1"/><circle cx="424.6" cy="45.8" r="2.7" fill="#201f1e"/>
<path d="M423.1 45.8 h3 M424.6 44.3 v3" stroke="#fff" stroke-width="0.7"/>
<circle cx="461.3" cy="43.7" r="4.1" fill="#1f1e1d"/>
<path d="M458.9 45.6 a2.9 2.9 0 0 1 3.4 -4.6 M461 44.6 l2.2 -2.6" fill="none" stroke="#fff" stroke-width="0.8"/>
<g fill="#3b3a39"><circle cx="482" cy="43.8" r="0.7"/><circle cx="484.5" cy="43.8" r="0.7"/><circle cx="487" cy="43.8" r="0.7"/>
<circle cx="775.6" cy="43.8" r="0.7"/><circle cx="778.1" cy="43.8" r="0.7"/><circle cx="780.6" cy="43.8" r="0.7"/></g>
<line x1="393" y1="35" x2="393" y2="52" stroke="#e3e1df" stroke-width="0.7"/>
<line x1="472" y1="35" x2="472" y2="52" stroke="#e3e1df" stroke-width="0.7"/>
<line x1="790" y1="35" x2="790" y2="52" stroke="#e3e1df" stroke-width="0.7"/>
<!-- ===== sidebar icons ===== -->
<circle cx="149.9" cy="68" r="12.2" fill="#002957"/>
<g fill="none" stroke="#c3cee0" stroke-width="0.75">
<rect x="144.4" y="69.2" width="2.6" height="3.6"/><rect x="148.2" y="64.3" width="2.8" height="8.5"/><rect x="152.4" y="61.2" width="3" height="11.6"/>
<path d="M143.6 73.7 h12.6"/>
</g>
<g fill="none" stroke="#605e5c" stroke-width="0.8" stroke-linecap="round" stroke-linejoin="round">
<path d="M208.6 145.4 l2.1 2.1 l2.1 -2.1 M208.6 170.6 l2.1 2.1 l2.1 -2.1 M208.6 198 l2.1 -2.1 l2.1 2.1 M208.6 327.5 l2.1 2.1 l2.1 -2.1" stroke="#3f3e3c" stroke-width="1"/>
<path d="M91.2 387.3 h6.4 M93.8 384.7 l-2.6 2.6 l2.6 2.6" stroke="#252423"/>
</g>
<!-- ===== dropdown chevrons ===== -->
<path d="M283.3 111.6 l2.3 2.2 l2.3 -2.2 M376.6 111.6 l2.3 2.2 l2.3 -2.2 M561.9 111.6 l2.3 2.2 l2.3 -2.2 M747.7 111.6 l2.3 2.2 l2.3 -2.2 M783.8 111.6 l2.3 2.2 l2.3 -2.2" fill="none" stroke="#3d5675" stroke-width="0.6"/>
<!-- ===== status bar ===== -->
<g stroke="#605e5c" stroke-width="0.8" fill="none">
<path d="M724.5 396.5 h2.2 M793.7 396.5 h4.6 M796 394.2 v4.6" stroke-width="1" stroke="#55534f"/>
<path d="M730.4 396.5 h59.6" stroke="#b3b1af" stroke-width="1.1"/>
<rect x="832.6" y="393.6" width="8.6" height="6" rx="0.8" stroke="#7a7876" stroke-width="1"/>
<path d="M834.4 396.6 v-1.3 h1.4 M839.4 396.6 v1.3 h-1.4" stroke="#7a7876" stroke-width="0.6"/>
</g>
<rect x="742.4" y="392.9" width="2" height="7.2" fill="#4a4948"/>
<circle cx="760" cy="396.5" r="1" fill="#6a6866"/>

</svg>

<!-- copilot icon -->
<div class="a" style="left:633.6px;top:39px;width:9.8px;height:9.2px;border-radius:38% 42% 38% 42%;background:conic-gradient(from -40deg at 50% 50%,#1d9ce9 0deg,#2a62e2 55deg,#6f55ea 90deg,#b65cf0 120deg,#e65aa6 165deg,#f3503a 205deg,#f6a22e 245deg,#e8d33a 275deg,#3fc47c 310deg,#1d9ce9 360deg);"></div>
<div class="a" style="left:637.6px;top:41.4px;width:1.7px;height:4.6px;border-radius:1px;background:#fbf6f4;transform:rotate(22deg);"></div>
<span class="t" style="left:155.0px;top:12.81px;font-size:9.3px;line-height:11.16px;font-weight:400;color:#ffffff;letter-spacing:-0.378px;">Perustutkinto-opiskelijoiden etenemisen seuranta-ilman nimia</span>
<span class="t" style="left:400.0px;top:12.81px;font-size:9.3px;line-height:11.16px;font-weight:400;color:#ffffff;letter-spacing:-0.348px;">Data updated 10/10/25</span>
<span class="t" style="left:537.6px;top:12.97px;font-size:8.6px;line-height:10.32px;font-weight:400;color:#605e5c;letter-spacing:-0.422px;">Search</span>
<span class="t" style="left:648.0px;top:10.71px;font-size:12.6px;line-height:15.12px;font-weight:400;color:#c29a5b;letter-spacing:0.005px;-webkit-text-stroke:0.25px #c29a5b;">Reset to default</span>
<span class="t" style="left:243.6px;top:39.89px;font-size:8.56px;line-height:10.27px;font-weight:400;color:#252423;letter-spacing:-0.270px;">File</span>
<span class="t" style="left:292.4px;top:39.98px;font-size:8.39px;line-height:10.07px;font-weight:400;color:#252423;letter-spacing:-0.352px;">Share</span>
<span class="t" style="left:350.0px;top:39.75px;font-size:8.83px;line-height:10.60px;font-weight:400;color:#252423;letter-spacing:-0.336px;">Export</span>
<span class="t" style="left:648.3px;top:39.46px;font-size:9.6px;line-height:11.52px;font-weight:400;color:#323130;letter-spacing:-0.336px;">Cop</span>
<span class="t" style="left:665.2px;top:39.46px;font-size:9.6px;line-height:11.52px;font-weight:400;color:#323130;letter-spacing:-0.147px;">lot</span>
<span class="t" style="left:104.9px;top:85.49px;font-size:9.92px;line-height:11.90px;font-weight:700;color:#1b1a19;letter-spacing:-0.357px;">Tilastot henkilöstölle</span>
<span class="t" style="left:89.7px;top:117.77px;font-size:8.8px;line-height:10.56px;font-weight:400;color:#252423;letter-spacing:-0.131px;">Tilastot henkilostolle</span>
<span class="t" style="left:89.7px;top:143.07px;font-size:8.8px;line-height:10.56px;font-weight:400;color:#252423;letter-spacing:-0.081px;">HTV-tilastot</span>
<span class="t" style="left:89.7px;top:168.27px;font-size:8.8px;line-height:10.56px;font-weight:400;color:#252423;letter-spacing:-0.201px;">Julkaisutilastot</span>
<span class="t" style="left:89.7px;top:193.77px;font-size:8.8px;line-height:10.56px;font-weight:400;color:#252423;letter-spacing:-0.143px;">Perustutkinto-opiskelijoiden ...</span>
<span class="t" style="left:99.2px;top:219.27px;font-size:8.8px;line-height:10.56px;font-weight:400;color:#252423;letter-spacing:-0.408px;">Etusivu</span>
<span class="t" style="left:99.2px;top:244.17px;font-size:8.8px;line-height:10.56px;font-weight:700;color:#1b1a19;letter-spacing:-0.364px;">Opintojen etenemisen se...</span>
<span class="t" style="left:99.2px;top:269.67px;font-size:8.8px;line-height:10.56px;font-weight:400;color:#252423;letter-spacing:-0.093px;">Eri kohorttien vertailu</span>
<span class="t" style="left:99.2px;top:295.07px;font-size:8.8px;line-height:10.56px;font-weight:400;color:#252423;letter-spacing:-0.069px;">Tutkinto-ohjelmien vertailu</span>
<span class="t" style="left:89.7px;top:326.07px;font-size:8.8px;line-height:10.56px;font-weight:400;color:#252423;letter-spacing:-0.087px;">Tutkintotilastot</span>
<span class="t" style="left:108.6px;top:382.77px;font-size:8.8px;line-height:10.56px;font-weight:400;color:#252423;letter-spacing:-0.324px;">Go back</span>
<span class="t" style="left:4.3px;top:233.91px;font-size:12.4px;line-height:14.88px;font-weight:400;color:#c29a5b;letter-spacing:0.094px;-webkit-text-stroke:0.25px #c29a5b;">Navigating</span>
<span class="t" style="left:4.3px;top:249.91px;font-size:12.4px;line-height:14.88px;font-weight:400;color:#c29a5b;letter-spacing:0.234px;-webkit-text-stroke:0.25px #c29a5b;">between</span>
<span class="t" style="left:4.3px;top:265.61px;font-size:12.4px;line-height:14.88px;font-weight:400;color:#c29a5b;letter-spacing:0.161px;-webkit-text-stroke:0.25px #c29a5b;">report tabs</span>
<span class="t" style="left:475.5px;top:100.11px;font-size:12.6px;line-height:15.12px;font-weight:400;color:#c29a5b;letter-spacing:0.124px;-webkit-text-stroke:0.25px #c29a5b;">Basic filters</span>
<span class="t" style="left:245.5px;top:63.28px;font-size:14.8px;line-height:17.76px;font-weight:700;color:#002957;letter-spacing:0.038px;">OPINTOJEN ETENEMISEN SEURANTA VALITUSSA KOHORTISSA</span>
<span class="t" style="left:246.0px;top:97.72px;font-size:5.6px;line-height:6.72px;font-weight:700;color:#002957;letter-spacing:-0.114px;">TIEDEKUNTA</span>
<span class="t" style="left:295.4px;top:97.72px;font-size:5.6px;line-height:6.72px;font-weight:700;color:#002957;letter-spacing:-0.129px;">KOULUTUKSEN TASO</span>
<span class="t" style="left:388.3px;top:97.72px;font-size:5.6px;line-height:6.72px;font-weight:700;color:#002957;letter-spacing:0.014px;">VIIMEISIN KOULUTUS</span>
<span class="t" style="left:574.1px;top:97.72px;font-size:5.6px;line-height:6.72px;font-weight:700;color:#002957;letter-spacing:0.007px;">TUTKINTO-OHJELMA</span>
<span class="t" style="left:759.8px;top:97.72px;font-size:5.6px;line-height:6.72px;font-weight:700;color:#002957;letter-spacing:-0.052px;">KOHORTTI</span>
<span class="t" style="left:249.0px;top:109.92px;font-size:5.6px;line-height:6.72px;font-weight:400;color:#3d5675;letter-spacing:0.094px;">All</span>
<span class="t" style="left:298.5px;top:109.92px;font-size:5.6px;line-height:6.72px;font-weight:400;color:#3d5675;letter-spacing:0.094px;">All</span>
<span class="t" style="left:391.5px;top:109.92px;font-size:5.6px;line-height:6.72px;font-weight:400;color:#3d5675;letter-spacing:0.094px;">All</span>
<span class="t" style="left:577.0px;top:109.92px;font-size:5.6px;line-height:6.72px;font-weight:400;color:#3d5675;letter-spacing:0.094px;">All</span>
<span class="t" style="left:763.0px;top:109.92px;font-size:5.6px;line-height:6.72px;font-weight:400;color:#3d5675;letter-spacing:-0.058px;">2011</span>
<span class="t" style="left:383.2px;top:134.92px;font-size:5.2px;line-height:6.24px;font-weight:700;color:#002957;letter-spacing:0.225px;">OPISKELIJOIDEN TILANNE LUKUKAUSITTAIN (KOHORTISSA OLEVIEN OPINTO-OIKEUKSIEN MÄÄRÄ 2431)</span>
<span class="t" style="left:759.1px;top:147.67px;font-size:5.5px;line-height:6.60px;font-weight:700;color:#ffffff;letter-spacing:-0.291px;">PROSENTTEINA</span>
<span class="t" style="left:522.9px;top:151.69px;font-size:7.6px;line-height:9.12px;font-weight:400;color:#222222;letter-spacing:-0.356px;">Help</span>
<span class="t" style="left:806.3px;top:392.48px;font-size:8px;line-height:9.60px;font-weight:400;color:#605e5c;letter-spacing:-0.505px;">51%</span>
<span class="t" style="left:765.8px;top:230.59px;font-size:4.09px;line-height:4.91px;font-weight:700;color:#002957;letter-spacing:-0.153px;">Maisteri</span>
<span class="t" style="left:765.8px;top:238.10px;font-size:3.93px;line-height:4.72px;font-weight:700;color:#002957;letter-spacing:-0.153px;">Kandi, opiskelee</span>
<span class="t" style="left:765.8px;top:245.52px;font-size:3.92px;line-height:4.70px;font-weight:700;color:#002957;letter-spacing:-0.144px;">Kandi, ei suorituksia</span>
<span class="t" style="left:765.8px;top:252.83px;font-size:4.14px;line-height:4.97px;font-weight:700;color:#002957;letter-spacing:-0.163px;">Muu JY-tutkinto</span>
<span class="t" style="left:765.8px;top:260.29px;font-size:4.05px;line-height:4.86px;font-weight:700;color:#002957;letter-spacing:-0.173px;">30 op tai enemmän</span>
<span class="t" style="left:765.8px;top:267.66px;font-size:4.16px;line-height:4.99px;font-weight:700;color:#002957;letter-spacing:-0.172px;">15-29 op</span>
<span class="t" style="left:765.8px;top:275.06px;font-size:4.19px;line-height:5.03px;font-weight:700;color:#002957;letter-spacing:-0.167px;">1-14 op</span>
<span class="t" style="left:765.8px;top:282.54px;font-size:4.07px;line-height:4.88px;font-weight:700;color:#002957;letter-spacing:-0.153px;">Ei suorituksia</span>
<span class="t" style="left:765.8px;top:290.03px;font-size:3.95px;line-height:4.74px;font-weight:700;color:#002957;letter-spacing:-0.161px;">Poissaoleva</span>

<!-- vertical annotation -->
<span class="t" id="vert" style="left:848.3px;top:99.5px;font-size:14.2px;line-height:16px;color:#c29a5b;transform-origin:0 0;transform:rotate(90deg) translate(0,-50%);letter-spacing:-0.56px;-webkit-text-stroke:0.2px #c29a5b;">Some reports include additional filters</span>

<!-- gold annotation boxes -->
<div class="gold" style="left:659.1px;top:28.2px;width:59.1px;height:29.6px;border-radius:9.5px;"></div>
<div class="gold" style="left:236.4px;top:89.8px;width:565.4px;height:36.9px;border-radius:10px;"></div>
<div class="gold" style="left:67.3px;top:175.5px;width:175.1px;height:152.3px;border-radius:27px;"></div>
<div class="gold" style="left:804.2px;top:52.1px;width:58.5px;height:340.2px;border-radius:13px;"></div>
</div>
</body></html>
